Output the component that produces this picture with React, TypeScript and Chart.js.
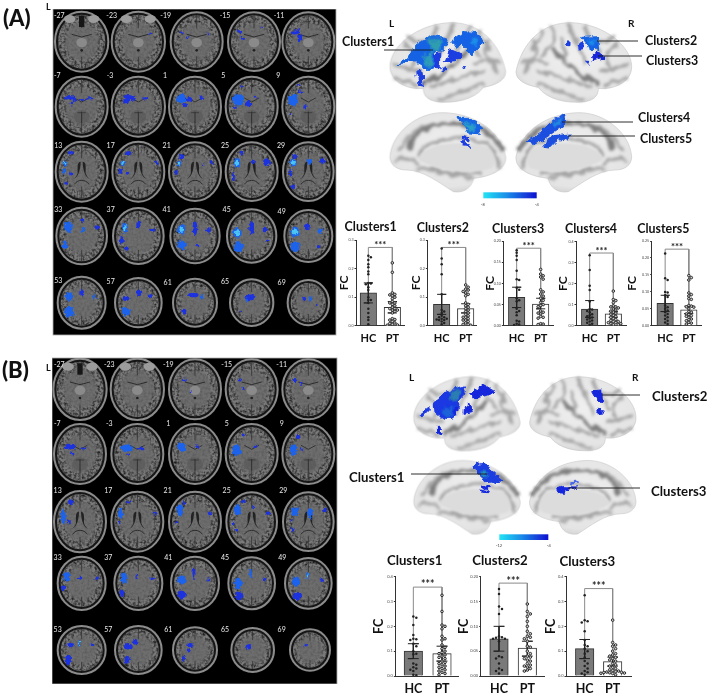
import React, { useEffect, useRef } from "react";
import { Chart, registerables } from "chart.js";
Chart.register(...registerables);

const FONT = "Lato, 'Open Sans', sans-serif";
const groups = ["HC", "PT"];

const a1Hc = [.245,.24,.23,.215,.205,.19,.18,.15,.148,.145,.135,.125,.1,.09,.09,.08,.06,.045,.03,.02,.005];
const a1Pt = [.22,.187,.115,.11,.108,.105,.1,.095,.085,.08,.08,.075,.07,.065,.06,.06,.055,.055,.05,.045,.025,.022,.02,.015,.01,.008,.005,.003,.002];
const a2Hc = [.27,.235,.215,.18,.11,.055,.05,.045,.035,.03,.03,.025,.025,.022,.02,.02,.015,.01,.005];
const a2Pt = [.143,.135,.128,.125,.12,.115,.11,.105,.08,.075,.07,.065,.06,.055,.05,.045,.04,.035,.03,.03,.025,.02,.02,.015,.01,.005,.005,.002];
const a3Hc = [.178,.172,.165,.155,.13,.11,.108,.09,.085,.065,.06,.058,.04,.035,.032,.025,.012,.01,.005,.003,.002];
const a3Pt = [.133,.122,.118,.115,.11,.085,.08,.075,.07,.065,.06,.055,.05,.048,.045,.035,.032,.03,.028,.022,.02,.018,.005,.004,.003];
const a4Hc = [.335,.265,.19,.17,.115,.08,.078,.07,.065,.055,.05,.045,.04,.035,.03,.025,.02,.015,.01,.005];
const a4Pt = [.165,.125,.12,.11,.095,.09,.09,.085,.08,.075,.07,.065,.06,.055,.05,.045,.04,.035,.03,.025,.02,.02,.015,.015,.01,.01,.005,.005];
const a5Hc = [.213,.14,.135,.1,.098,.09,.085,.06,.055,.05,.045,.04,.035,.03,.025,.02,.015,.01,.005];
const a5Pt = [.148,.142,.135,.097,.092,.088,.08,.078,.06,.058,.056,.055,.05,.042,.04,.035,.033,.03,.028,.025,.02,.018,.015,.01,.008,.005];
const b1Hc = [.24,.235,.205,.165,.15,.148,.145,.13,.12,.1,.09,.088,.05,.045,.035,.03,.025,.02,.005,.003];
const b1Pt = [.325,.26,.205,.2,.19,.16,.15,.145,.125,.115,.11,.1,.095,.09,.085,.08,.075,.07,.06,.055,.05,.045,.04,.035,.03,.025,.02,.015,.01,.005];
const b2Hc = [.175,.165,.14,.135,.125,.08,.078,.077,.075,.075,.07,.04,.038,.035,.025,.015,.012,.01,.005];
const b2Pt = [.145,.13,.125,.12,.11,.1,.09,.085,.08,.078,.075,.07,.06,.058,.05,.045,.04,.038,.035,.032,.03,.025,.022,.02,.018,.015,.012,.01];
const b3Hc = [.325,.225,.22,.215,.18,.145,.125,.12,.11,.1,.09,.075,.06,.05,.04,.03,.02,.015,.01,.005];
const b3Pt = [.225,.135,.125,.12,.11,.1,.09,.085,.08,.075,.07,.065,.06,.05,.045,.04,.035,.03,.025,.022,.02,.018,.016,.015,.014,.013,.012,.011,.01,.005];

const clusterMeans = [[.115,.065],[.075,.06],[.067,.051],[.08,.057],[.066,.047],[.1,.09],[.075,.056],[.11,.058]];
const clusterLow = [[.08,.045],[.04,.045],[.043,.04],[.04,.04],[.042,.036],[.07,.06],[.05,.04],[.07,.04]];
const clusterHigh = [[.15,.085],[.11,.077],[.091,.065],[.12,.067],[.09,.058],[.13,.12],[.1,.07],[.147,.076]];
const bracketTops = [.274,.274,.183,.346,.226,.358,.187,.352];
const clusterSeries = [[a1Hc,a1Pt],[a2Hc,a2Pt],[a3Hc,a3Pt],[a4Hc,a4Pt],[a5Hc,a5Pt],[b1Hc,b1Pt],[b2Hc,b2Pt],[b3Hc,b3Pt]];
const clusterTitles = ["Clusters1","Clusters2","Clusters3","Clusters4","Clusters5","Clusters1","Clusters2","Clusters3"];
const axisMax = [.3,.3,.2,.4,.25,.4,.2,.4];
const axisStep = [.1,.1,.05,.1,.05,.1,.05,.1];
const axisDigits = [1,1,2,1,2,1,2,1];

// layout, in the pixels of a 3x crop, with the crop's origin
const boxes = [
  { ox:340, oy:215, axis:48, hc:85, pt:157, right:193, top:75, bot:330, tx:122, ty:37, fc:12, tf:12.4, lf:11, bw:16.5, fcf:12, xp:6 },
  { ox:340, oy:215, axis:262, hc:305, pt:377, right:410, top:75, bot:330, tx:327, ty:40, fc:228, tf:12.4, lf:11, bw:16.5, fcf:12, xp:6 },
  { ox:340, oy:215, axis:490, hc:530, pt:602, right:640, top:78, bot:332, tx:552, ty:43, fc:450, tf:12.4, lf:11, bw:16.5, fcf:12, xp:6 },
  { ox:340, oy:215, axis:708, hc:749, pt:820, right:858, top:80, bot:332, tx:760, ty:44, fc:670, tf:12.4, lf:11, bw:16.5, fcf:12, xp:6 },
  { ox:340, oy:215, axis:935, hc:976, pt:1048, right:1085, top:78, bot:331, tx:977, ty:44, fc:877, tf:12.4, lf:11, bw:16.5, fcf:12, xp:6 },
  { ox:370, oy:540, axis:76, hc:130, pt:216, right:265, top:110, bot:407, tx:162, ty:63, fc:25, tf:13.2, lf:12.5, bw:18.5, fcf:12.5, xp:5 },
  { ox:370, oy:540, axis:332, hc:387, pt:472, right:522, top:110, bot:406, tx:426, ty:63, fc:280, tf:13.2, lf:12.5, bw:18.5, fcf:12.5, xp:5 },
  { ox:370, oy:540, axis:588, hc:644, pt:728, right:785, top:110, bot:407, tx:676, ty:65, fc:540, tf:13.2, lf:12.5, bw:18.5, fcf:12.5, xp:5 },
];

function swarm(values: number[], center: number, yMax: number) {
  const step = 0.105, d = yMax * 0.028;
  const placed: { o: number; y: number }[] = [];
  return values.map((v) => {
    for (let k = 0; k < 13; k++) {
      const o = k === 0 ? 0 : (k % 2 ? 1 : -1) * Math.ceil(k / 2) * step;
      if (!placed.some((p) => p.o === o && Math.abs(p.y - v) < d)) {
        placed.push({ o, y: v });
        return { x: center + o, y: v };
      }
    }
    return { x: center, y: v };
  });
}

function MiniChart({ i }: { i: number }) {
  const ref = useRef<HTMLCanvasElement>(null);
  const b = boxes[i];
  const lh = b.tf * 1.2, fh = b.fcf * 1.2;
  const left = Math.round(b.ox + b.fc / 3 - fh / 2);
  const tc = b.ox + b.tx / 3;
  const width = Math.round(2 * (tc - left));
  const top = Math.round(b.oy + b.ty / 3 - lh / 2);
  const areaTop = b.oy + b.top / 3, areaBot = b.oy + b.bot / 3;
  const xH = b.lf * 1.2 + b.xp + 1;
  const height = Math.ceil(areaBot + xH - top);
  const axisPx = b.ox + b.axis / 3, rightPx = b.ox + b.right / 3;
  const spacing = b.pt - b.hc;
  const xMin = -(b.hc - b.axis) / spacing, xMax = 1 + (b.right - b.pt) / spacing;
  useEffect(() => {
    const [hc, pt] = clusterSeries[i];
    const mean = clusterMeans[i], lo = clusterLow[i], hi = clusterHigh[i], tp = bracketTops[i];
    const cap = 0.19;
    const err = (c: number) => [
      { x: c - cap, y: hi[c] }, { x: c + cap, y: hi[c] }, { x: c, y: hi[c] },
      { x: c, y: lo[c] }, { x: c - cap, y: lo[c] }, { x: c + cap, y: lo[c] },
    ];
    const stars = {
      id: "stars",
      afterDatasetsDraw(chart: any) {
        const { ctx, scales } = chart;
        ctx.save();
        ctx.fillStyle = "#222";
        ctx.font = `bold ${i < 5 ? 9.5 : 10.5}px ${FONT}`;
        ctx.textAlign = "center";
        ctx.textBaseline = "middle";
        ctx.fillText("***", scales.x.getPixelForValue(0.5), scales.y.getPixelForValue(tp) - 2);
        ctx.restore();
      },
    };
    const line = (data: any[], color: string, w: number, order: number) => ({
      type: "line", data, borderColor: color, borderWidth: w, pointRadius: 0, fill: false, tension: 0, order,
    });
    const chart = new Chart(ref.current!, {
      type: "bar",
      data: {
        datasets: [
          { type: "bar", data: [{ x: 0, y: mean[0] }, { x: 1, y: mean[1] }], barThickness: b.bw,
            backgroundColor: ["#7a7a7a", "#ffffff"], borderColor: "#333", borderWidth: 1, order: 5 },
          line([{ x: 0, y: mean[0] }, { x: 0, y: tp }, { x: 1, y: tp }, { x: 1, y: mean[1] }], "#8a8a8a", 1, 4),
          line(err(0), "#222", 1, 3),
          line(err(1), "#222", 1, 3),
          { type: "scatter", data: swarm(hc, 0, axisMax[i]), pointRadius: 1.25, pointBackgroundColor: "#222", pointBorderWidth: 0, order: 1 },
          { type: "scatter", data: swarm(pt, 1, axisMax[i]), pointRadius: 1.3, pointBackgroundColor: "#ccc", pointBorderColor: "#2a2a2a", pointBorderWidth: 1, order: 1 },
        ] as any,
      },
      options: {
        animation: false, responsive: false, devicePixelRatio: 1,
        layout: { padding: { left: 0, top: 0, bottom: 0, right: left + width - rightPx } },
        plugins: {
          legend: { display: false }, tooltip: { enabled: false },
          title: { display: true, text: clusterTitles[i], color: "#111",
            font: { family: FONT, weight: "bold", size: b.tf },
            padding: { top: 0, bottom: areaTop - top - lh } },
        },
        scales: {
          x: { type: "linear", min: xMin, max: xMax, offset: false,
            afterBuildTicks: (s: any) => { s.ticks = [{ value: 0 }, { value: 1 }]; },
            afterFit: (s: any) => { s.height = xH; },
            grid: { display: false, offset: false, drawTicks: false, tickLength: 0 }, border: { display: true, color: "#333", width: 1 },
            ticks: { autoSkip: false, maxRotation: 0, padding: b.xp, color: "#111",
              callback: (v: any) => groups[v], font: { family: FONT, weight: "bold", size: b.lf } } },
          y: { type: "linear", min: 0, max: axisMax[i],
            afterFit: (s: any) => { s.width = axisPx - left; },
            grid: { drawOnChartArea: false, drawTicks: true, tickLength: 1.5, color: "#333" },
            border: { display: true, color: "#333", width: 1 },
            title: { display: true, text: "FC", color: "#111", padding: 0, font: { family: FONT, weight: "bold", size: b.fcf } },
            ticks: { stepSize: axisStep[i], padding: 1, color: "#444", font: { family: FONT, size: i < 5 ? 3.6 : 4 },
              callback: (v: any) => Number(v).toFixed(axisDigits[i]) } },
        },
      } as any,
      plugins: [stars],
    });
    return () => chart.destroy();
  }, []);
  return <canvas ref={ref} width={width} height={height}
    style={{ position: "absolute", left, top, width, height, filter: "blur(0.35px)" }} />;
}

/* ---------- illustration: axial slices ---------- */
const D = 0, M = 1, C = 2;
const blobColor = ["#1c30de", "#1b62ea", "#4cc4f4"];
type Blob = number[];
const sliceRowsA = [
  { oy:0, cy:125, kind:"base", xs:[245,415,590,762,925], rx:[80,80,78,78,78], ry:[90,90,88,88,88],
    lab:[["-27",178,48],["-23",335,48],["-19",497,48],["-15",675,48],["-11",837,48]],
    blobs:[[],[[452,100,4,4,D]],[[545,97,7,3,D],[562,112,4,4,D],[622,100,5,3,D]],[[720,95,8,5,D],[730,115,6,5,D],[785,82,4,3,D]],
      [[885,97,15,7,D],[900,115,8,13,D],[895,88,6,4,D]]] },
  { oy:0, cy:320, kind:"mid", xs:[245,415,585,755,925], rx:[78,80,78,78,78], ry:[90,90,90,90,90],
    lab:[["-7",172,227],["-3",330,227],["1",495,227],["5",670,227],["9",835,227]],
    blobs:[[[208,293,20,6,D],[225,300,8,6,D],[215,310,6,7,D],[268,295,14,4,D],[245,300,8,3,D]],
      [[385,290,20,6,D],[380,303,12,10,D],[400,298,9,5,D],[435,295,14,4,D]],
      [[545,295,17,15,M],[567,298,10,8,D],[605,293,9,4,D],[555,315,7,7,D]],
      [[715,300,20,19,M],[745,310,9,11,D],[725,258,4,3,D],[705,322,7,6,D],[765,290,5,3,D]],
      [[880,300,17,20,M],[900,275,8,4,D],[915,322,6,8,D],[872,342,5,3,D],[895,255,5,3,D]]] },
  { oy:390, cy:125, kind:"vent", xs:[245,415,585,755,925], rx:[78,78,78,78,76], ry:[90,90,88,88,88],
    lab:[["13",175,47],["17",332,47],["21",500,47],["25",675,47],["29",843,47]],
    blobs:[[[213,68,10,6,D],[195,100,8,10,C],[192,125,7,10,M],[212,130,5,9,D],[198,160,5,5,D]],
      [[385,70,10,7,D],[368,100,7,10,C],[362,125,6,10,D],[382,130,5,5,D],[470,98,6,7,D]],
      [[545,82,8,10,D],[537,100,7,9,C],[528,128,6,8,D],[635,98,7,8,D],[610,105,3,4,D]],
      [[725,70,7,10,D],[712,98,11,18,C],[700,140,5,14,D],[760,95,5,8,D],[800,96,12,12,D]],
      [[885,80,8,8,D],[880,98,11,12,C],[872,130,5,14,D],[878,170,5,9,D],[928,95,6,12,M],[968,93,9,9,D]]] },
  { oy:390, cy:318, kind:"top", xs:[245,415,585,755,925], rx:[76,76,74,74,72], ry:[85,84,82,80,78],
    lab:[["33",175,240],["37",332,240],["41",500,240],["45",680,240],["49",845,245]],
    blobs:[[[205,292,14,18,M],[195,345,9,12,M],[248,270,5,7,D],[250,300,6,10,M],[292,292,9,7,D]],
      [[375,295,10,18,C],[365,330,7,14,D],[380,355,7,8,D],[415,285,7,14,D],[458,300,9,7,D]],
      [[545,300,13,18,C],[545,345,15,15,M],[585,295,8,24,D],[625,300,9,9,D],[592,345,7,4,D]],
      [[712,310,15,18,C],[715,350,17,18,M],[755,295,8,22,D],[795,300,9,8,D],[800,332,7,3,D]],
      [[885,305,14,18,C],[885,350,16,18,M],[922,292,8,11,D],[960,302,8,10,M],[955,350,6,6,D]]] },
  { oy:390, cy:518, kind:"top", xs:[245,415,585,755,925], rx:[72,70,66,65,62], ry:[78,74,72,70,68],
    lab:[["53",175,453],["57",332,456],["61",503,458],["65",675,455],["69",845,458]],
    blobs:[[[208,500,13,14,M],[208,545,17,17,M],[245,488,8,10,D],[282,500,7,10,M]],
      [[378,505,11,9,D],[378,545,14,14,M],[418,488,10,10,D],[450,500,7,9,D]],
      [[580,495,18,8,D],[552,545,8,10,D],[605,500,6,10,M]],
      [[750,502,18,10,D],[722,545,4,3,D],[740,510,4,6,M]],
      [[912,505,6,7,D],[932,505,6,7,M],[950,525,3,3,D]]] },
];
const sliceRowsB = [
  { oy:1050, cy:118, kind:"base", xs:[240,412,585,755,925], rx:[80,80,78,78,78], ry:[92,92,90,90,90],
    lab:[["-27",178,44],["-23",328,44],["-19",505,44],["-15",680,44],["-11",845,44]],
    blobs:[[],[],[[553,90,5,4,D],[572,125,3,3,D]],[[720,90,4,6,D],[730,115,3,5,D]],[[885,90,8,4,D],[905,100,6,5,D]]] },
  { oy:1050, cy:312, kind:"mid", xs:[240,412,585,755,925], rx:[78,78,78,78,78], ry:[90,90,90,90,90],
    lab:[["-7",172,222],["-3",328,222],["1",505,222],["5",680,222],["9",845,222]],
    blobs:[[[210,290,20,10,D],[215,310,5,6,D],[250,295,13,4,D]],[[380,295,20,13,M],[420,295,12,4,D],[385,315,4,5,D]],
      [[545,292,15,15,M],[590,290,9,4,D]],[[710,300,15,18,M],[730,255,5,5,D],[765,290,8,3,D]],[[880,300,12,20,M],[895,260,8,6,D],[905,300,4,6,D]]] },
  { oy:1050, cy:515, kind:"vent", xs:[240,412,585,755,925], rx:[78,78,78,76,76], ry:[92,90,90,88,88],
    lab:[["13",173,424],["17",325,424],["21",503,424],["25",680,424],["29",850,424]],
    blobs:[[[190,500,8,25,M],[212,455,8,8,D],[208,515,5,10,D]],[[362,490,9,20,M],[385,455,7,6,D],[465,490,7,5,D],[358,518,5,5,D]],
      [[540,480,12,20,M],[630,490,7,7,D],[530,518,5,6,D],[552,458,4,5,D]],[[712,480,12,18,M],[730,455,8,6,D],[805,490,9,6,D],[700,520,5,7,D],[760,470,4,5,D],[710,540,5,4,D]],
      [[885,485,12,15,M],[930,490,9,18,M],[975,480,6,8,D],[880,540,5,8,D],[875,510,3,6,D]]] },
  { oy:1050, cy:700, kind:"top", xs:[245,415,585,755,925], rx:[72,72,72,70,70], ry:[80,80,80,78,76],
    lab:[["33",173,625],["37",325,625],["41",505,625],["45",675,625],["49",847,625]],
    blobs:[[[200,680,12,15,M],[190,715,8,10,D],[240,685,7,5,D],[290,685,7,5,D]],[[372,685,11,20,M],[365,730,8,12,D],[410,680,4,10,D],[458,688,8,5,D]],
      [[545,690,14,15,M],[545,735,14,15,D],[582,670,5,20,D],[625,690,7,5,D]],[[715,700,14,20,M],[718,738,14,16,D],[752,670,4,20,M],[795,690,8,5,D]],
      [[888,695,14,15,M],[892,738,16,14,D],[922,680,4,15,C],[965,690,6,7,D]]] },
  { oy:1050, cy:900, kind:"top", xs:[245,415,585,758,930], rx:[72,70,66,64,60], ry:[72,72,68,66,62],
    lab:[["53",173,840],["57",325,840],["61",505,840],["65",675,840],["69",845,840]],
    blobs:[[[210,885,12,8,D],[205,930,12,17,D],[238,880,4,12,C],[278,885,6,6,D]],[[385,890,15,10,D],[382,930,9,14,D],[405,875,8,10,D]],
      [[570,885,12,7,D],[550,925,6,9,D],[565,900,5,5,D]],[[745,890,9,9,D]],[[918,887,6,6,D]]] },
];

function Slice({ cx, cy, rx, ry, kind, blobs, oy, idx }: any) {
  const eyes = kind === "base" && idx < 2;
  return (
    <g>
      <ellipse cx={cx} cy={cy} rx={rx} ry={ry} fill="#151515" stroke="#8c8c8c" strokeWidth={6} />
      <ellipse cx={cx} cy={cy} rx={rx - 9} ry={ry - 9} fill="#7a7a7a" filter="url(#tex)" />
      <ellipse cx={cx} cy={cy} rx={rx * 0.62} ry={ry * 0.64} fill="#6c6c6c" opacity={0.8} filter="url(#soft)" />
      <line x1={cx} y1={cy - ry + 9} x2={cx} y2={cy - ry * 0.45} stroke="#333" strokeWidth={2.5} />
      <line x1={cx} y1={cy + ry * 0.5} x2={cx} y2={cy + ry - 9} stroke="#333" strokeWidth={2.5} />
      {eyes && (<g>
        <ellipse cx={cx - 36} cy={cy - 68} rx={17} ry={12} fill="#9c9c9c" />
        <ellipse cx={cx + 36} cy={cy - 68} rx={17} ry={12} fill="#9c9c9c" />
        {idx === 0 && <rect x={cx - 8} y={cy - 78} width={16} height={34} fill="#151515" />}
      </g>)}
      {kind === "base" && (<g>
        <ellipse cx={cx} cy={cy + 3} rx={16} ry={14} fill="#8a8a8a" />
        <path d={`M${cx - 30},${cy - 22} L${cx},${cy - 14} L${cx + 30},${cy - 22}`} stroke="#2c2c2c" strokeWidth={3} fill="none" />
        <ellipse cx={cx} cy={cy + 26} rx={4} ry={4} fill="#222" />
      </g>)}
      {kind === "mid" && (<g>
        <path d={`M${cx - 22},${cy - 26} L${cx},${cy - 14} L${cx + 22},${cy - 26}`} stroke="#333" strokeWidth={3} fill="none" />
        <ellipse cx={cx} cy={cy + 30} rx={24} ry={20} fill="#585858" opacity={0.7} />
        <line x1={cx - 12} y1={cy + 18} x2={cx + 12} y2={cy + 18} stroke="#2f2f2f" strokeWidth={2} />
        <line x1={cx} y1={cy + 15} x2={cx} y2={cy + 50} stroke="#2f2f2f" strokeWidth={3} />
      </g>)}
      {kind === "vent" && (<g>
        <path d={`M${cx - 3},${cy - 30} C${cx - 14},${cy - 30} ${cx - 12},${cy - 15} ${cx - 12},${cy + 5} C${cx - 16},${cy + 15} ${cx - 20},${cy + 20} ${cx - 26},${cy + 22} C${cx - 14},${cy + 20} ${cx - 3},${cy} ${cx - 3},${cy - 30}Z`} fill="#242424" />
        <path d={`M${cx + 3},${cy - 30} C${cx + 14},${cy - 30} ${cx + 12},${cy - 15} ${cx + 12},${cy + 5} C${cx + 16},${cy + 15} ${cx + 20},${cy + 20} ${cx + 26},${cy + 22} C${cx + 14},${cy + 20} ${cx + 3},${cy} ${cx + 3},${cy - 30}Z`} fill="#242424" />
        <path d={`M${cx - 22},${cy + 38} C${cx - 12},${cy + 22} ${cx + 12},${cy + 22} ${cx + 22},${cy + 38}`} fill="none" stroke="#2c2c2c" strokeWidth={3} />
      </g>)}
      {blobs.length > 0 && <g filter="url(#rough)">
        {blobs.map((b: Blob, i: number) => (
          <g key={i}>
            <ellipse cx={b[0]} cy={b[1] + oy} rx={b[2] * 0.88} ry={b[3] * 0.88} fill={blobColor[b[4] === C ? M : b[4]]} />
            {b[4] === C && <ellipse cx={b[0]} cy={b[1] + oy} rx={b[2] * 0.5} ry={b[3] * 0.5} fill={blobColor[C]} />}
          </g>
        ))}
      </g>}
    </g>
  );
}

function SliceRows({ rows }: { rows: any[] }) {
  return (<g>{rows.map((r, ri) => r.xs.map((x: number, i: number) => (
    <Slice key={ri + "-" + i} idx={i} cx={x} cy={r.cy + r.oy} rx={r.rx[i]} ry={r.ry[i]} kind={r.kind} blobs={r.blobs[i]} oy={r.oy} />
  )))}</g>);
}
function SliceLabels({ rows }: { rows: any[] }) {
  return (<g>{rows.map((r, ri) => r.lab.map((l: any, i: number) => (
    <text key={ri + "-" + i} x={l[1]} y={l[2] + r.oy + 6} fontSize={21} textAnchor="middle" fill="#e8e8e8" fontFamily={FONT}>{l[0]}</text>
  )))}</g>);
}

/* ---------- illustration: cortical surfaces (drawn for the left view, mirrored for the right) ---------- */
const lateralOutline = "M150,200 C150,140 230,72 330,68 C420,66 480,130 497,215 C497,240 470,255 430,262 C405,298 345,312 290,305 C260,300 250,285 250,265 C210,270 150,250 150,200Z";
const medialOutline = "M150,470 C155,400 230,337 310,338 C400,340 480,390 497,470 C500,510 450,530 400,535 C395,565 370,580 340,575 C300,550 250,510 200,510 C170,510 150,495 150,470Z";
const lateralSulci = [
  "M255,250 C300,225 340,205 385,150", "M270,262 C320,245 380,225 430,215", "M300,298 C340,285 390,268 430,250",
  "M340,74 C320,110 300,150 290,190", "M290,84 C270,110 260,140 240,170", "M390,82 C370,120 400,140 420,170",
  "M445,125 C420,150 460,190 472,215", "M190,130 C220,150 230,170 220,200", "M165,195 C190,200 220,210 240,215", "M205,110 C215,125 250,130 262,120",
  "M170,235 C190,235 210,245 230,258", "M420,90 C410,110 430,125 450,150", "M360,120 C350,140 360,170 340,195", "M400,190 C430,180 450,190 475,185",
];
const medialSulci = [
  "M205,440 C230,380 320,350 420,385 C440,395 470,420 490,450", "M240,470 C250,420 350,400 440,430",
  "M230,505 C280,500 340,525 395,535", "M290,520 C340,520 370,520 420,520", "M180,450 C190,420 210,400 250,380",
  "M440,430 C455,450 475,480 480,505", "M170,480 C190,470 210,480 235,490",
];

function Surface({ outline, sulci, mirror, inner }: any) {
  return (
    <g transform={mirror ? "translate(1025,0) scale(-1,1)" : undefined}>
      <path d={outline} fill="url(#cortex)" stroke="#c8c8c8" strokeWidth={2} />
      <g filter="url(#softrough)">
        {sulci.map((d: string, i: number) => <path key={i} d={d} fill="none" stroke={i === 0 ? "#7e7e7e" : "#a4a4a4"} strokeWidth={i === 0 ? 13 : 10} strokeLinecap="round" />)}
      </g>
      {inner && <path d="M235,480 C245,435 340,415 440,440 C470,455 470,490 455,505 C390,525 300,515 235,480Z" fill="#dcdcdc" filter="url(#soft)" />}
    </g>
  );
}
const blueA = [
  ["M175,192 L205,175 232,128 280,110 322,116 315,150 285,150 280,208 255,208 240,186 205,186Z", "#1562e4"],
  ["M230,215 L245,210 250,258 238,256Z", "#1a3ce0"], ["M285,165 L300,150 298,200 282,200Z", "#1a3ce0"],
  ["M316,185 L330,145 365,160 350,182Z", "#1a3ce0"], ["M335,125 L375,95 412,98 432,130 395,162 365,130 345,142Z", "#1562e4"],
  ["M303,205 L316,200 316,212 304,212Z", "#1a3ce0"], ["M366,200 L374,200 374,208 366,208Z", "#1a3ce0"],
  ["M725,112 L772,110 776,150 750,152 738,128Z", "#1562e4"], ["M716,138 L730,130 728,150 718,150Z", "#1a3ce0"],
  ["M755,165 L778,158 795,172 760,184Z", "#1426d8"], ["M679,126 L690,126 690,134 680,134Z", "#1a3ce0"], ["M738,184 L748,184 748,192 738,192Z", "#1a3ce0"],
  ["M345,352 L385,352 428,384 415,404 385,402 368,368Z", "#1562e4"], ["M365,412 L385,416 380,422 366,418Z", "#1a3ce0"], ["M365,428 L388,428 385,436 368,434Z", "#1a3ce0"],
  ["M562,430 L600,398 640,360 675,346 678,370 625,408 582,434Z", "#1a4fe0"],
  ["M608,430 L640,408 692,402 686,416 655,420 632,444 610,442Z", "#1a4fe0"],
];
const tealA = [["M262,118 L305,118 300,150 275,150Z", "#2e9db0"], ["M252,170 L278,150 276,200 258,200Z", "#2d9cb8"], ["M395,115 L415,115 410,135 395,132Z", "#1f8fe8"], ["M372,365 L405,375 405,395 382,392Z", "#2b9ec8"], ["M745,115 L765,120 760,135 748,130Z", "#1f8fe8"], ["M635,365 L668,355 660,375 640,378Z", "#2089e0"]];
const blueB = [
  ["M282,155 L320,125 372,112 378,130 355,155 340,208 310,208 285,186Z", "#1a38e2"], ["M240,190 L265,170 268,180 245,205Z", "#1a38e2"],
  ["M392,130 L430,105 465,125 440,136 400,146Z", "#1428dc"], ["M373,172 L388,158 397,185 372,190Z", "#1428dc"], ["M342,172 L355,172 352,195 342,195Z", "#1428dc"],
  ["M292,232 L300,232 303,252 293,248Z", "#1428dc"], ["M755,122 L785,120 787,150 774,156Z", "#1428dc"], ["M775,178 L790,180 778,194Z", "#1428dc"],
  ["M402,345 L430,340 490,392 445,400 415,372Z", "#1a3ce0"], ["M420,405 L448,415 445,420 422,410Z", "#1428dc"], ["M418,420 L442,424 440,428 420,426Z", "#1428dc"],
  ["M650,418 L670,410 712,411 680,420 668,430 652,428Z", "#1428dc"], ["M692,398 L715,396 715,399 692,402Z", "#4466ee"],
];
const tealB = [["M330,125 L362,118 352,150 335,150Z", "#2a7fb0"], ["M310,175 L338,170 335,205 315,205Z", "#1f62d8"], ["M425,362 L445,368 440,382 425,378Z", "#2598b8"]];

function Panel({ blue, teal, bScale }: any) {
  return (
    <g>
      <g transform={bScale ? "translate(83,17) scale(.92,.93)" : undefined}>
        <Surface outline={lateralOutline} sulci={lateralSulci} />
        <Surface outline={lateralOutline} sulci={lateralSulci} mirror />
        <Surface outline={medialOutline} sulci={medialSulci} inner />
        <Surface outline={medialOutline} sulci={medialSulci} inner mirror />
      </g>
      <g filter="url(#rough2)">
        {blue.map((b: string[], i: number) => <path key={i} d={b[0]} fill={b[1]} strokeLinejoin="round" stroke={b[1]} strokeWidth={3} />)}
        <g filter="url(#soft)">{teal.map((b: string[], i: number) => <path key={i} d={b[0]} fill={b[1]} />)}</g>
      </g>
    </g>
  );
}

const overlayLabels = [
  { t: "Clusters1", x: 342, y: 42, s: 12.4 }, { t: "Clusters2", x: 645, y: 41, s: 12.4 }, { t: "Clusters3", x: 646, y: 61, s: 12.4 },
  { t: "Clusters4", x: 638, y: 118, s: 12.4 }, { t: "Clusters5", x: 640, y: 139, s: 12.4 },
  { t: "Clusters2", x: 652, y: 396, s: 13.2 }, { t: "Clusters1", x: 349, y: 477, s: 13.2 }, { t: "Clusters3", x: 651, y: 491, s: 13.2 },
];
const overlayLines = [
  [384,50,433,50],[597,41,638,41],[598,56,642,56],[562,122,633,122],[568,136,635,136],
  [602,395,640,395],[411,474,487,474],[568,488,640,488],
];

function Figure() {
  return (
    <svg width={709} height={694} style={{ position: "absolute", left: 0, top: 0 }}>
      <defs>
        <filter id="soft" x="-30%" y="-30%" width="160%" height="160%"><feGaussianBlur stdDeviation="3" /></filter>
        <filter id="softrough" x="-10%" y="-10%" width="120%" height="120%" colorInterpolationFilters="sRGB">
          <feTurbulence type="fractalNoise" baseFrequency="0.035" numOctaves="2" seed="7" result="n" />
          <feDisplacementMap in="SourceGraphic" in2="n" scale="22" xChannelSelector="R" yChannelSelector="G" />
          <feGaussianBlur stdDeviation="5" />
        </filter>
        <filter id="fine" x="0" y="0" width="100%" height="100%"><feGaussianBlur stdDeviation="0.4" /></filter>
        <filter id="tex" x="0" y="0" width="100%" height="100%" colorInterpolationFilters="sRGB">
          <feTurbulence type="fractalNoise" baseFrequency="0.13" numOctaves="2" seed="3" result="n" />
          <feColorMatrix in="n" type="matrix" values="0 0 0 0 0  0 0 0 0 0  0 0 0 0 0  1.5 0 0 0 -0.55" result="a" />
          <feComposite in="a" in2="SourceGraphic" operator="in" result="c" />
          <feMerge><feMergeNode in="SourceGraphic" /><feMergeNode in="c" /></feMerge>
        </filter>
        <filter id="rough" x="-40%" y="-40%" width="180%" height="180%" colorInterpolationFilters="sRGB">
          <feTurbulence type="fractalNoise" baseFrequency="0.11" numOctaves="2" seed="5" result="n" />
          <feDisplacementMap in="SourceGraphic" in2="n" scale="13" xChannelSelector="R" yChannelSelector="G" />
        </filter>
        <filter id="rough2" x="-10%" y="-10%" width="120%" height="120%" colorInterpolationFilters="sRGB">
          <feTurbulence type="fractalNoise" baseFrequency="0.05" numOctaves="3" seed="11" result="n" />
          <feDisplacementMap in="SourceGraphic" in2="n" scale="22" xChannelSelector="R" yChannelSelector="G" />
        </filter>
        <radialGradient id="cortex" cx="50%" cy="42%" r="68%">
          <stop offset="0%" stopColor="#efefef" /><stop offset="75%" stopColor="#e4e4e4" /><stop offset="100%" stopColor="#c4c4c4" />
        </radialGradient>
        <linearGradient id="cbar" x1="0" x2="1" y1="0" y2="0">
          <stop offset="0%" stopColor="#22e4f4" /><stop offset="45%" stopColor="#1a8be8" /><stop offset="100%" stopColor="#1010d0" />
        </linearGradient>
        <clipPath id="panelA"><rect x={53} y={9} width={283} height={326} /></clipPath>
        <clipPath id="panelB"><rect x={52} y={358} width={285} height={326} /></clipPath>
      </defs>
      <g filter="url(#fine)">
        <rect x={53} y={9} width={283} height={326} fill="#050505" stroke="#aaa" strokeWidth={0.8} />
        <rect x={52} y={358} width={285} height={326} fill="#050505" stroke="#aaa" strokeWidth={0.8} />
        <g clipPath="url(#panelA)"><g transform="scale(0.33333)"><SliceRows rows={sliceRowsA} /></g></g>
        <g clipPath="url(#panelB)"><g transform="scale(0.33333)"><SliceRows rows={sliceRowsB} /></g></g>
        <g transform="scale(0.33333)"><SliceLabels rows={sliceRowsA} /><SliceLabels rows={sliceRowsB} /></g>
        <g transform="translate(340,0) scale(0.33333)"><Panel blue={blueA} teal={tealA} /></g>
        <g transform="translate(340,350) scale(0.33333)"><Panel blue={blueB} teal={tealB} bScale /></g>
        <rect x={483.3} y={192.3} width={53.4} height={6} fill="url(#cbar)" />
        <rect x={499.3} y={534.3} width={49} height={5.7} fill="url(#cbar)" />
        {overlayLines.map((l, i) => <line key={i} x1={l[0]} y1={l[1]} x2={l[2]} y2={l[3]} stroke="#1c1c1c" strokeWidth={0.9} />)}
      </g>
      <g fontFamily={FONT} fill="#111">
        <text x={3} y={26} fontSize={22} fontWeight={900}>(A)</text>
        <text x={2} y={378} fontSize={22} fontWeight={900}>(B)</text>
        <text x={46} y={10} fontSize={9} fontWeight="bold">L</text>
        <text x={46} y={371} fontSize={9} fontWeight="bold">L</text>
        <text x={389} y={27} fontSize={10} fontWeight="bold">L</text>
        <text x={628} y={27} fontSize={10} fontWeight="bold">R</text>
        <text x={409} y={381} fontSize={10} fontWeight="bold">L</text>
        <text x={632} y={381} fontSize={10} fontWeight="bold">R</text>
        {overlayLabels.map((l, i) => <text key={i} x={l.x} y={l.y + l.s * 0.35} fontSize={l.s} fontWeight="bold">{l.t}</text>)}
        <text x={483} y={206} fontSize={4} textAnchor="middle" fill="#444">-8</text>
        <text x={537} y={206} fontSize={4} textAnchor="middle" fill="#444">-4</text>
        <text x={499} y={547} fontSize={4} textAnchor="middle" fill="#444">-12</text>
        <text x={549} y={547} fontSize={4} textAnchor="middle" fill="#444">-4</text>
      </g>
    </svg>
  );
}

export default function App() {
  return (
    <div style={{ position: "fixed", left: 0, top: 0, width: 709, height: 694, background: "#fff", overflow: "hidden" }}>
      <Figure />
      {boxes.map((_, i) => <MiniChart key={i} i={i} />)}
    </div>
  );
}
